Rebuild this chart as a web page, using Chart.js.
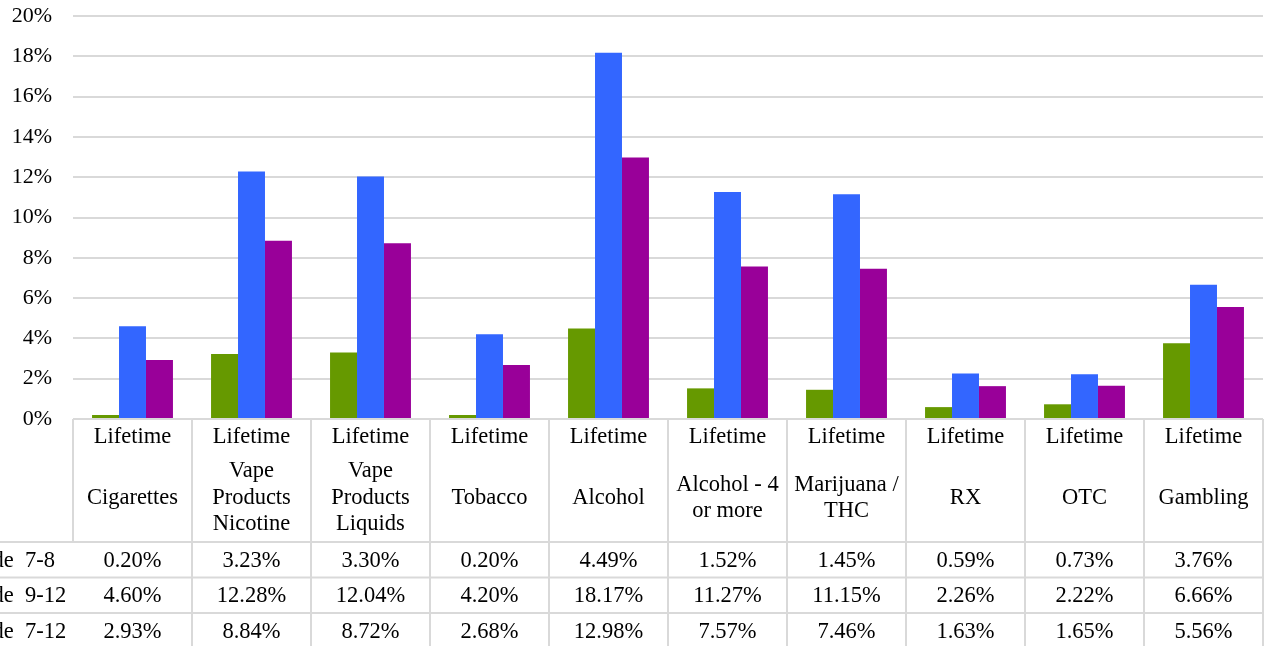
<!DOCTYPE html>
<html>
<head>
<meta charset="utf-8">
<script src="https://cdn.jsdelivr.net/npm/chart.js@4"></script>
<style>
  body { margin: 0; background: #fff; }
  #wrap { width: 1271px; height: 646px; }
</style>
</head>
<body>
<div id="wrap"><canvas id="myChart" width="1271" height="646"></canvas></div>
<script>
const categories = [
  ["Lifetime", "Cigarettes"],
  ["Lifetime", "Vape", "Products", "Nicotine"],
  ["Lifetime", "Vape", "Products", "Liquids"],
  ["Lifetime", "Tobacco"],
  ["Lifetime", "Alcohol"],
  ["Lifetime", "Alcohol - 4", "or more"],
  ["Lifetime", "Marijuana /", "THC"],
  ["Lifetime", "RX"],
  ["Lifetime", "OTC"],
  ["Lifetime", "Gambling"],
];
const seriesNames = ["Grade  7-8", "Grade  9-12", "Grade  7-12"];
const grade78 = [0.20, 3.23, 3.30, 0.20, 4.49, 1.52, 1.45, 0.59, 0.73, 3.76];
const grade912 = [4.60, 12.28, 12.04, 4.20, 18.17, 11.27, 11.15, 2.26, 2.22, 6.66];
const grade712 = [2.93, 8.84, 8.72, 2.68, 12.98, 7.57, 7.46, 1.63, 1.65, 5.56];
const colors = ["#669900", "#3366FF", "#990099"];

const FAMILY = "'Liberation Serif', 'Times New Roman', serif";
const FONT = "22.5px " + FAMILY;
const LINE = "#d9d9d9";

// draws the Excel style data table under the plot
const dataTable = {
  id: "dataTable",
  afterDraw(chart) {
    const c = chart.ctx;
    const x = chart.scales.x;
    const area = chart.chartArea;
    const top = area.bottom;
    const headH = 123;
    const rowH = 35.5;
    const left = area.left;
    const right = area.right;
    const colW = (right - left) / categories.length;
    const rows = [grade78, grade912, grade712];

    c.save();
    c.strokeStyle = LINE;
    c.lineWidth = 2;
    c.beginPath();
    c.moveTo(left, top); c.lineTo(right, top);
    for (let r = 0; r <= rows.length; r++) {
      const y = top + headH + r * rowH;
      c.moveTo(0, y); c.lineTo(right, y);
    }
    c.moveTo(left, top); c.lineTo(left, top + headH);
    for (let i = 1; i <= categories.length; i++) {
      const bx = left + i * colW;
      c.moveTo(bx, top); c.lineTo(bx, chart.height);
    }
    c.stroke();

    c.fillStyle = "#000";
    c.font = FONT;
    c.textAlign = "center";
    c.textBaseline = "middle";
    categories.forEach((lines, i) => {
      const cx = x.getPixelForValue(i);
      c.fillText(lines[0], cx, top + 18);
      const rest = lines.slice(1);
      const mid = top + 79;
      rest.forEach((t, k) => {
        c.fillText(t, cx, mid + (k - (rest.length - 1) / 2) * 26.5);
      });
      rows.forEach((vals, r) => {
        c.fillText(vals[i].toFixed(2) + "%", cx, top + headH + r * rowH + rowH / 2 + 1);
      });
    });

    // row names, cut off at the left edge like the source
    c.textAlign = "left";
    seriesNames.forEach((name, r) => {
      const pre = name.split(" ")[0] + "  ";
      const lx = 25 - c.measureText(pre).width;
      c.fillText(name, lx, top + headH + r * rowH + rowH / 2 + 1);
    });
    c.restore();
  },
};

const ctx = document.getElementById("myChart");
const myChart = new Chart(ctx, {
  type: "bar",
  data: {
    labels: categories.map((l) => l.join(" ")),
    datasets: [
      { label: seriesNames[0], data: grade78, backgroundColor: colors[0] },
      { label: seriesNames[1], data: grade912, backgroundColor: colors[1] },
      { label: seriesNames[2], data: grade712, backgroundColor: colors[2] },
    ],
  },
  options: {
    responsive: false,
    animation: false,
    datasets: {
      bar: {
        categoryPercentage: 0.68,
        barPercentage: 1,
        borderWidth: 0,
      },
    },
    layout: {
      padding: { top: 0, right: 8, bottom: 227, left: 0 },
    },
    plugins: {
      legend: { display: false },
      tooltip: { enabled: false },
    },
    scales: {
      x: {
        display: false,
      },
      y: {
        min: 0,
        max: 20,
        afterFit: (s) => { s.width = 73; s.paddingTop = 16; },
        border: { display: false },
        grid: {
          color: LINE,
          lineWidth: 2,
          drawTicks: false,
        },
        ticks: {
          stepSize: 2,
          padding: 21,
          color: "#000",
          font: { family: FAMILY, size: 22 },
          callback: (v) => v + "%",
        },
      },
    },
  },
  plugins: [dataTable],
});
</script>
</body>
</html>
